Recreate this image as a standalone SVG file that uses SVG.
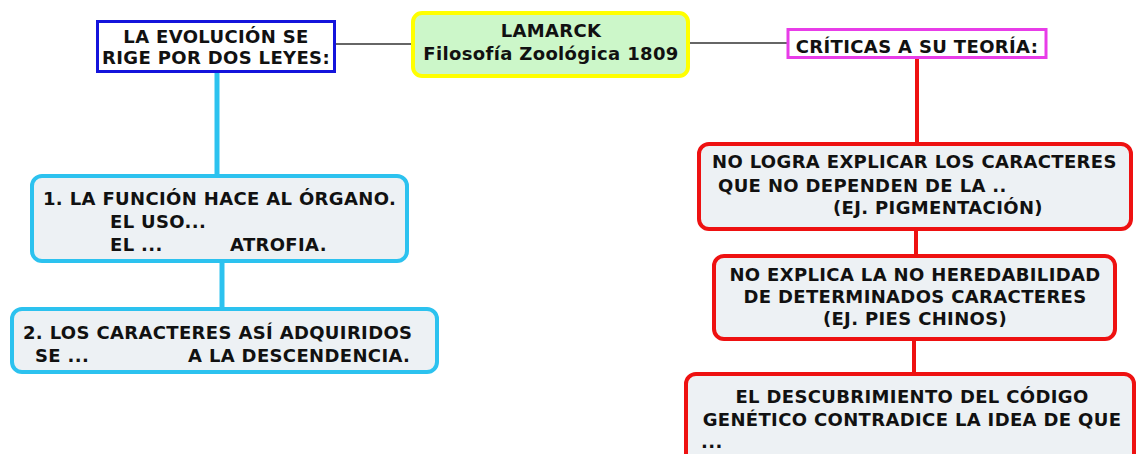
<svg xmlns="http://www.w3.org/2000/svg" width="1137" height="454" viewBox="0 0 1137 454">
<style>
text{font-family:"DejaVu Sans","Liberation Sans",sans-serif;font-weight:bold;font-size:18px;letter-spacing:0.35px;fill:#111}
.c{text-anchor:middle}
.box{fill:#edf1f4;stroke-width:4}
.bl{stroke:#2cc2ef}
.rd{stroke:#ee1111}
</style>
<rect width="1137" height="454" fill="#ffffff"/>
<g id="connectors" fill="none">
<line x1="336" y1="44" x2="412" y2="44" stroke="#666" stroke-width="2"/>
<line x1="690" y1="43" x2="788" y2="43" stroke="#666" stroke-width="2"/>
<line x1="217" y1="72" x2="217" y2="175" stroke="#2cc2ef" stroke-width="5"/>
<line x1="222" y1="262" x2="222" y2="308" stroke="#2cc2ef" stroke-width="5"/>
<line x1="917" y1="58" x2="917" y2="143" stroke="#ee1111" stroke-width="4"/>
<line x1="916" y1="230" x2="916" y2="256" stroke="#ee1111" stroke-width="4"/>
<line x1="914" y1="340" x2="914" y2="374" stroke="#ee1111" stroke-width="4"/>
</g>
<g id="center">
<rect x="413" y="13" width="275" height="63" rx="9" fill="#ccf7c9" stroke="#ffff00" stroke-width="4"/>
<text class="c" x="551" y="37">LAMARCK</text>
<text class="c" x="551" y="60">Filosofía Zoológica 1809</text>
</g>
<g id="leyes">
<rect x="97.5" y="21.5" width="237" height="50" fill="#ffffff" stroke="#1414dc" stroke-width="3"/>
<text class="c" x="216" y="43">LA EVOLUCIÓN SE</text>
<text class="c" x="216" y="64">RIGE POR DOS LEYES:</text>
</g>
<g id="criticas">
<rect x="788" y="29.5" width="258" height="28" fill="#ffffff" stroke="#e83ce8" stroke-width="3"/>
<text class="c" x="917" y="53">CRÍTICAS A SU TEORÍA:</text>
</g>
<g id="ley1">
<rect class="box bl" x="32" y="176" width="375" height="85" rx="10"/>
<text x="43" y="205">1. LA FUNCIÓN HACE AL ÓRGANO.</text>
<text x="110" y="228">EL USO...</text>
<text x="110" y="251">EL ...</text>
<text x="230" y="251">ATROFIA.</text>
</g>
<g id="ley2">
<rect class="box bl" x="12" y="309" width="425" height="63" rx="10"/>
<text x="23" y="339">2. LOS CARACTERES ASÍ ADQUIRIDOS</text>
<text x="35" y="362">SE ...</text>
<text x="188" y="362">A LA DESCENDENCIA.</text>
</g>
<g id="critica1">
<rect class="box rd" x="699" y="144" width="432" height="85" rx="10"/>
<text x="712" y="168">NO LOGRA EXPLICAR LOS CARACTERES</text>
<text x="718" y="192">QUE NO DEPENDEN DE LA ..</text>
<text x="833" y="214">(EJ. PIGMENTACIÓN)</text>
</g>
<g id="critica2">
<rect class="box rd" x="714" y="256" width="401" height="83" rx="10"/>
<text class="c" x="915" y="281">NO EXPLICA LA NO HEREDABILIDAD</text>
<text class="c" x="915" y="303">DE DETERMINADOS CARACTERES</text>
<text class="c" x="915" y="325">(EJ. PIES CHINOS)</text>
</g>
<g id="critica3">
<rect class="box rd" x="686" y="374" width="448" height="100" rx="10"/>
<text class="c" x="912" y="403">EL DESCUBRIMIENTO DEL CÓDIGO</text>
<text class="c" x="912" y="426">GENÉTICO CONTRADICE LA IDEA DE QUE</text>
<text x="701" y="448">...</text>
</g>
</svg>
